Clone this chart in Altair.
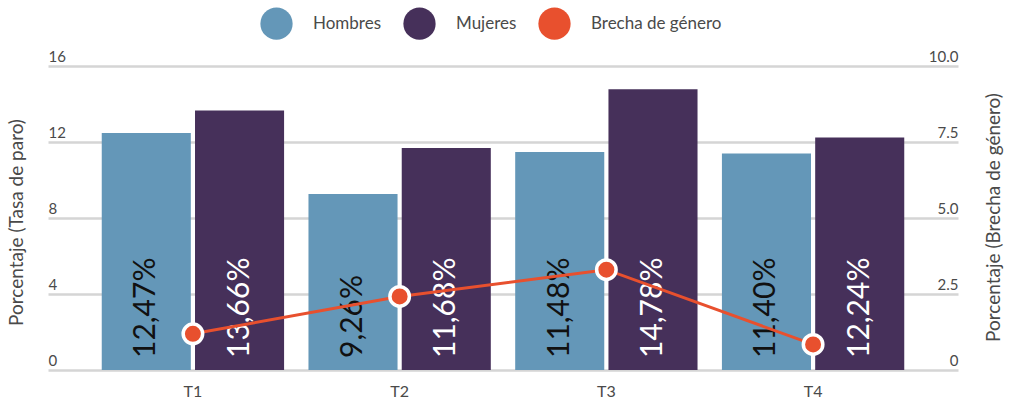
import altair as alt
import pandas as pd

trimestres = ["T1", "T2", "T3", "T4"]
hombres = [12.47, 9.26, 11.48, 11.40]
mujeres = [13.66, 11.68, 14.78, 12.24]
brecha = [1.19, 2.42, 3.30, 0.84]

series = ["Hombres", "Mujeres", "Brecha de género"]
colores = ["#6497b8", "#46305a", "#e8502e"]

FONT = "Lato"
TXT = "#4a4a4a"

rows = []
for t, h, m in zip(trimestres, hombres, mujeres):
    rows.append({"trimestre": t, "serie": "Hombres", "valor": h, "zero": 0})
    rows.append({"trimestre": t, "serie": "Mujeres", "valor": m, "zero": 0})
bars_df = pd.DataFrame(rows)
gap_df = pd.DataFrame({"trimestre": trimestres, "brecha": brecha})

x_enc = alt.X(
    "trimestre:N",
    sort=trimestres,
    scale=alt.Scale(paddingInner=0.118, paddingOuter=0.26),
    axis=alt.Axis(title=None, labelAngle=0, domain=False, ticks=False, grid=False,
                  labelFontSize=16, labelPadding=13, labelColor=TXT, labelFont=FONT),
)
xoff = alt.XOffset("serie:N", scale=alt.Scale(domain=["Hombres", "Mujeres"], paddingInner=0.045))

left_axis = alt.Axis(
    title="Porcentaje (Tasa de paro)", values=[0, 4, 8, 12, 16], domain=False, ticks=False,
    tickSize=0, grid=True, gridColor="#d5d5d5", gridWidth=2.5,
    labelAlign="left", labelBaseline="alphabetic", labelPadding=0, labelOffset=-5,
    labelFontSize=15, labelColor=TXT, labelFont=FONT,
    titleFontSize=19, titleColor=TXT, titleFont=FONT, titleFontWeight="normal",
    titleX=-32, titleY=156, titleAngle=270, titleAlign="center", titleBaseline="middle",
)
right_axis = alt.Axis(
    title="Porcentaje (Brecha de género)", orient="right", values=[0, 2.5, 5, 7.5, 10],
    domain=False, ticks=False, tickSize=0, grid=False,
    labelExpr="datum.value == 0 ? '0' : format(datum.value, '.1f')",
    labelAlign="right", labelBaseline="alphabetic", labelPadding=0, labelOffset=-5,
    labelFontSize=15, labelColor=TXT, labelFont=FONT,
    titleFontSize=19, titleColor=TXT, titleFont=FONT, titleFontWeight="normal",
    titleX=35, titleY=151, titleAngle=270, titleAlign="center", titleBaseline="middle",
)

bars = alt.Chart(bars_df).mark_bar().encode(
    x=x_enc,
    xOffset=xoff,
    y=alt.Y("valor:Q", scale=alt.Scale(domain=[0, 16]), axis=left_axis),
    color=alt.Color(
        "serie:N",
        scale=alt.Scale(domain=series, range=colores),
        legend=alt.Legend(
            title=None, orient="none", legendX=212, legendY=-59, direction="horizontal",
            symbolType="circle", symbolSize=1040, symbolStrokeWidth=0, symbolOpacity=1,
            labelFontSize=17, labelColor=TXT, labelFont=FONT, labelOffset=20,
            columnPadding=21, padding=0,
        ),
    ),
)

labels = alt.Chart(bars_df).transform_calculate(
    etiqueta="replace(format(datum.valor, '.2f'), '.', ',') + '%'"
).mark_text(
    angle=270, align="left", baseline="middle", dx=12, fontSize=30, font=FONT
).encode(
    x=x_enc,
    xOffset=xoff,
    y=alt.Y("zero:Q", scale=alt.Scale(domain=[0, 16]), axis=left_axis),
    text="etiqueta:N",
    color=alt.condition(alt.datum.serie == "Hombres", alt.value("#111111"), alt.value("#ffffff")),
)

line = alt.Chart(gap_df).mark_line(color="#e8502e", strokeWidth=3).encode(
    x=alt.X("trimestre:N", sort=trimestres),
    y=alt.Y("brecha:Q", scale=alt.Scale(domain=[0, 10]), axis=right_axis),
)
points = alt.Chart(gap_df).mark_point(
    filled=True, size=380, fill="#e8502e", stroke="white", strokeWidth=3.5, opacity=1
).encode(
    x=alt.X("trimestre:N", sort=trimestres),
    y=alt.Y("brecha:Q", scale=alt.Scale(domain=[0, 10]), axis=right_axis),
)

left = alt.layer(bars, labels)
right = alt.layer(line, points)

chart = alt.layer(left, right).resolve_scale(y="independent").properties(
    width=910, height=304,
    autosize=alt.AutoSizeParams(type="none"),
    padding={"left": 48, "top": 66, "right": 57, "bottom": 30},
).configure(background="white", view=alt.ViewConfig(stroke=None))

chart.save("out.html", embed_options={"renderer": "svg", "actions": False})
